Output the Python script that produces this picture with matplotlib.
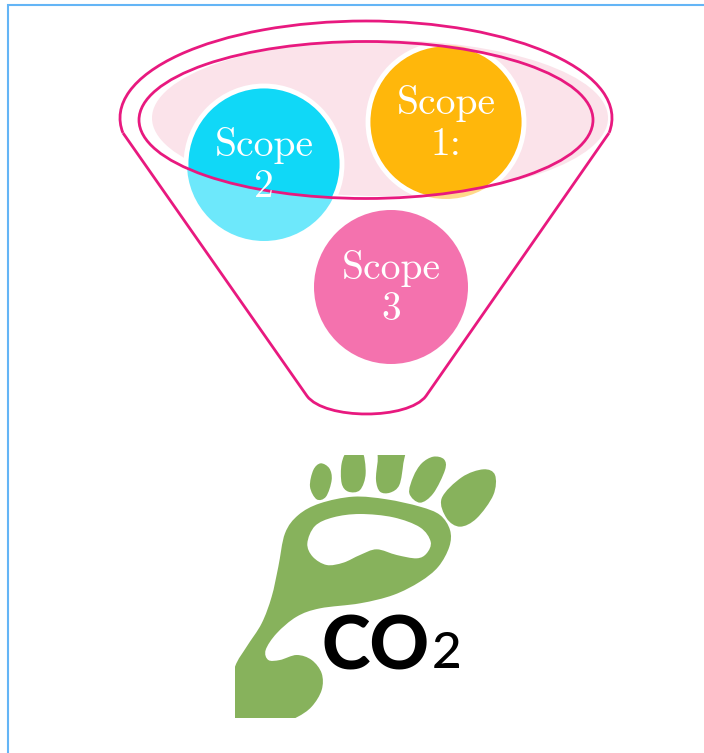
import numpy as np
import matplotlib
matplotlib.use("Agg")
import matplotlib.pyplot as plt
from matplotlib.patches import Arc, Circle, Ellipse, PathPatch, Rectangle
from matplotlib.path import Path

scope_labels = ["Scope\n1:", "Scope\n2", "Scope\n3"]
scope_colors = ["#ffb70b", "#10d8f7", "#f472ae"]
scope_light = ["#ffd98a", "#6de8fb", None]
scope_x = [446, 264, 391]
scope_y = [122, 164, 287]

PINK = "#e8197f"
GREEN = "#87b25c"

foot_outer = [(45, 680), (80, 620), (125, 550), (155, 470), (175, 380), (195, 280), (235, 225),
              (300, 190), (400, 170), (500, 178), (600, 200), (660, 225), (690, 270), (688, 320),
              (655, 380), (600, 425), (520, 465), (420, 490), (300, 505), (230, 530), (170, 580),
              (137, 630), (145, 660), (180, 660), (230, 645), (275, 660), (305, 700), (305, 750),
              (275, 800), (230, 832), (160, 860), (60, 860), (20, 780)]
foot_hole = [(262, 310), (285, 258), (340, 232), (420, 222), (520, 232), (600, 262), (632, 305),
             (620, 340), (590, 355), (530, 345), (470, 328), (420, 345), (370, 368), (320, 375),
             (278, 350)]
toes = [
    [(302, 70), (328, 85), (335, 120), (318, 170), (290, 178), (270, 140), (280, 90)],
    [(385, 30), (425, 30), (437, 100), (420, 150), (385, 155), (365, 130), (365, 70)],
    [(480, 25), (552, 25), (550, 70), (538, 135), (510, 158), (480, 155), (468, 120), (473, 65)],
    [(640, 50), (672, 58), (675, 90), (640, 160), (600, 188), (568, 160), (580, 110), (605, 70)],
    [(725, 112), (790, 88), (825, 105), (820, 165), (770, 235), (720, 260), (680, 235), (665, 175)],
]


def smooth(points):
    # closed catmull-rom outline going through the points
    pts = [np.array(p, dtype=float) / 3 + (220, 440) for p in points]
    n = len(pts)
    verts = [pts[0]]
    codes = [Path.MOVETO]
    for i in range(n):
        p0, p1, p2, p3 = pts[i - 1], pts[i], pts[(i + 1) % n], pts[(i + 2) % n]
        verts += [p1 + (p2 - p0) / 6, p2 - (p3 - p1) / 6, p2]
        codes += [Path.CURVE4, Path.CURVE4, Path.CURVE4]
    return verts, codes


fig = plt.figure(figsize=(7.04, 7.53), dpi=100)
ax = fig.add_axes([0, 0, 1, 1])
ax.set_xlim(0, 704)
ax.set_ylim(753, 0)
ax.axis("off")

# page border
ax.plot([8, 8, 704], [753, 5, 5], color="#64b5f6", lw=1.5, solid_joinstyle="miter")

ax.add_patch(Ellipse((380, 118), 456, 156, fc="#fbe3ea", ec="none", zorder=1))

inner = Ellipse((366, 120), 454, 157, fc="none", ec=PINK, lw=2, zorder=5)
ax.add_patch(inner)

for x, y, col, light in zip(scope_x, scope_y, scope_colors, scope_light):
    if light is None:
        ax.add_patch(Circle((x, y), 77, fc=col, ec="none", zorder=2))
        continue
    ax.add_patch(Circle((x, y), 77, fc=light, ec="none", zorder=2))
    solid = Circle((x, y), 78, fc=col, ec="white", lw=3.5, zorder=3)
    ax.add_patch(solid)
    solid.set_clip_path(inner)

# funnel
ax.add_patch(Arc((366, 118), 492, 194, theta1=176.5, theta2=363.5, ec=PINK, lw=2, zorder=5))
funnel = Path([(123, 133), (307, 396), (325, 420), (408, 420), (426, 396), (609, 133)],
              [Path.MOVETO, Path.LINETO, Path.CURVE4, Path.CURVE4, Path.CURVE4, Path.LINETO])
ax.add_patch(PathPatch(funnel, fc="none", ec=PINK, lw=2, zorder=5))

for x, y, label in zip(scope_x, scope_y, scope_labels):
    ax.text(x, y + 2, label, color="white", family="cmr10", fontsize=28.5, ha="center",
            va="center", linespacing=1.15, zorder=6)

# footprint, the image is cropped on its left, top and bottom
crop = Rectangle((235, 455), 300, 263, transform=ax.transData)
v1, c1 = smooth(foot_outer)
v2, c2 = smooth(foot_hole[::-1])
foot = ax.add_patch(PathPatch(Path(v1 + v2, c1 + c2), fc=GREEN, ec="none", zorder=2))
foot.set_clip_path(crop)
for toe in toes:
    v, c = smooth(toe)
    p = ax.add_patch(PathPatch(Path(v, c), fc=GREEN, ec="none", zorder=2))
    p.set_clip_path(crop)

ax.text(321, 670, "CO", family="Lato", weight="black", fontsize=53, color="black",
        ha="left", va="baseline", zorder=3)
ax.text(432, 668, "2", family="Lato", weight="medium", fontsize=37, color="black",
        ha="left", va="baseline", zorder=3)

fig.savefig("out.png", dpi=100)
